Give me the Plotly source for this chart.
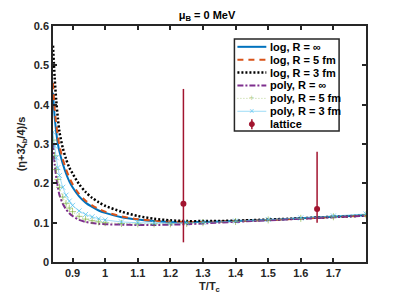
import plotly.graph_objects as go

# T/Tc grid
x_vals = [0.84, 0.845, 0.85, 0.855, 0.86, 0.87, 0.88, 0.89, 0.90, 0.92, 0.94, 0.96, 0.98, 1.00,
          1.05, 1.10, 1.15, 1.20, 1.25, 1.30, 1.40, 1.50, 1.60, 1.70, 1.80]

log_inf = [0.43, 0.37, 0.33, 0.30, 0.28, 0.25, 0.225, 0.205, 0.19, 0.167, 0.151, 0.140, 0.131, 0.125,
           0.114, 0.108, 0.104, 0.102, 0.101, 0.102, 0.104, 0.107, 0.111, 0.115, 0.119]
log_5 = [0.455, 0.39, 0.35, 0.32, 0.295, 0.262, 0.236, 0.215, 0.198, 0.173, 0.156, 0.144, 0.135, 0.128,
         0.116, 0.109, 0.105, 0.103, 0.102, 0.102, 0.104, 0.107, 0.110, 0.114, 0.118]
log_3 = [0.55, 0.47, 0.41, 0.365, 0.33, 0.29, 0.262, 0.24, 0.225, 0.198, 0.178, 0.163, 0.152, 0.143,
         0.128, 0.117, 0.110, 0.106, 0.104, 0.104, 0.105, 0.108, 0.111, 0.115, 0.118]
poly_inf = [0.30, 0.25, 0.215, 0.19, 0.17, 0.148, 0.134, 0.124, 0.117, 0.107, 0.102, 0.099, 0.097, 0.096,
            0.095, 0.094, 0.094, 0.095, 0.096, 0.098, 0.102, 0.106, 0.110, 0.114, 0.118]
poly_5 = [0.31, 0.27, 0.235, 0.21, 0.19, 0.165, 0.149, 0.137, 0.128, 0.116, 0.109, 0.105, 0.102, 0.100,
          0.098, 0.097, 0.097, 0.097, 0.098, 0.100, 0.103, 0.107, 0.111, 0.115, 0.120]
poly_3 = [0.33, 0.295, 0.265, 0.24, 0.22, 0.19, 0.17, 0.155, 0.144, 0.130, 0.121, 0.115, 0.110, 0.107,
          0.102, 0.100, 0.099, 0.099, 0.100, 0.101, 0.104, 0.108, 0.112, 0.117, 0.122]

lat_x = [1.24, 1.65]
lat_y = [0.148, 0.135]
lat_lo = [0.050, 0.100]
lat_hi = [0.440, 0.280]

x_ticks = [0.9, 1.0, 1.1, 1.2, 1.3, 1.4, 1.5, 1.6, 1.7]
x_tick_text = ["0.9", "1", "1.1", "1.2", "1.3", "1.4", "1.5", "1.6", "1.7"]
y_ticks = [0, 0.1, 0.2, 0.3, 0.4, 0.5, 0.6]
y_tick_text = ["0", "0.1", "0.2", "0.3", "0.4", "0.5", "0.6"]

legend_names = ["log, R = ∞", "log, R = 5 fm", "log, R = 3 fm",
                "poly, R = ∞", "poly, R = 5 fm", "poly, R = 3 fm", "lattice"]

FONT = "Liberation Sans, Arial, sans-serif"
C_BLUE, C_ORANGE, C_BLACK = "#0072BD", "#D95319", "#000000"
C_PURPLE, C_GREEN, C_LBLUE, C_RED = "#7E2F8E", "rgba(119,172,48,0.6)", "rgba(77,190,238,0.7)", "#A2142F"

styles = [
    dict(color=C_BLUE, width=2, dash="solid"),
    dict(color=C_ORANGE, width=2, dash="6px,5px"),
    dict(color=C_BLACK, width=2.5, dash="2px,2px"),
    dict(color=C_PURPLE, width=2, dash="6px,2px,2px,2px"),
    dict(color="rgba(119,172,48,0.5)", width=1, dash="1px,2px"),
    dict(color="rgba(77,190,238,0.55)", width=1, dash="solid"),
]

# page is offset by the 8px body margin
W, H = 395, 295
ML, MR, MT, MB = 44, 37, 16, 41
PW, PH = W - ML - MR, H - MT - MB


def px(xp):  # page x pixel -> paper
    return (xp - 8 - ML) / PW


def py(yp):  # page y pixel -> paper
    return (H - MB - (yp - 8)) / PH


fig = go.Figure()
series = [log_inf, log_5, log_3, poly_inf, poly_5, poly_3]
for i, ys in enumerate(series):
    st = styles[i]
    kw = {}
    mode = "lines"
    if i == 4:
        mode = "lines+markers"
        kw["marker"] = dict(symbol="cross-thin", size=5, line=dict(color=C_GREEN, width=1))
    if i == 5:
        mode = "lines+markers"
        kw["marker"] = dict(symbol="x-thin", size=5, line=dict(color=C_LBLUE, width=1))
    fig.add_trace(go.Scatter(x=x_vals, y=ys, mode=mode, name=legend_names[i], showlegend=False,
                             line=dict(color=st["color"], width=st["width"], dash=st["dash"],
                                       shape="spline", smoothing=0.8), **kw))

fig.add_trace(go.Scatter(x=lat_x, y=lat_y, mode="markers", name="lattice", showlegend=False,
                         marker=dict(color=C_RED, size=6, symbol="circle"),
                         error_y=dict(type="data", symmetric=False,
                                      array=[h - y for h, y in zip(lat_hi, lat_y)],
                                      arrayminus=[y - l for l, y in zip(lat_lo, lat_y)],
                                      color=C_RED, thickness=1.5, width=0)))

# manual legend (MATLAB-style compact box)
shapes = [dict(type="rect", xref="paper", yref="paper", x0=px(234), x1=px(339), y0=py(130), y1=py(37),
               fillcolor="white", line=dict(color="#262626", width=1.5), layer="above")]
annotations = []
rows = [45, 58, 71, 84, 97, 110, 123]
for i, name in enumerate(legend_names):
    yy = py(rows[i])
    if i < 6:
        st = styles[i]
        shapes.append(dict(type="line", xref="paper", yref="paper", x0=px(237), x1=px(266), y0=yy, y1=yy,
                           line=dict(color=st["color"], width=st["width"], dash=st["dash"]), layer="above"))
    if i == 4:
        annotations.append(dict(text="+", x=px(251.5), y=yy, xref="paper", yref="paper", showarrow=False,
                                xanchor="center", yanchor="middle",
                                font=dict(family=FONT, size=9, color=C_GREEN)))
    if i == 5:
        annotations.append(dict(text="×", x=px(251.5), y=yy, xref="paper", yref="paper", showarrow=False,
                                xanchor="center", yanchor="middle",
                                font=dict(family=FONT, size=9, color=C_LBLUE)))
    if i == 6:
        shapes.append(dict(type="line", xref="paper", yref="paper", x0=px(251.5), x1=px(251.5),
                           y0=py(rows[i] + 5), y1=py(rows[i] - 5),
                           line=dict(color=C_RED, width=1.5), layer="above"))
        shapes.append(dict(type="circle", xref="paper", yref="paper", x0=px(249), x1=px(254),
                           y0=py(rows[i] + 2.5), y1=py(rows[i] - 2.5),
                           fillcolor=C_RED, line=dict(color=C_RED, width=1), layer="above"))
    annotations.append(dict(text=name, x=px(268), y=yy, xref="paper", yref="paper", showarrow=False,
                            xanchor="left", yanchor="middle",
                            font=dict(family=FONT, size=11, color="#000000", weight="bold")))

axis_common = dict(showline=True, linecolor="#262626", linewidth=1.5, mirror="ticks",
                   ticks="inside", ticklen=4, tickcolor="#262626", tickwidth=1.5,
                   showgrid=False, zeroline=False,
                   tickfont=dict(family=FONT, size=11, color="#262626", weight="bold"))

fig.update_xaxes(range=[0.84, 1.8], tickvals=x_ticks, ticktext=x_tick_text,
                 title=dict(text="T/T<sub>c</sub>", standoff=4,
                            font=dict(family=FONT, size=11, color="#262626", weight="bold")),
                 **axis_common)
fig.update_yaxes(range=[0, 0.6], tickvals=y_ticks, ticktext=y_tick_text,
                 title=dict(text="(η+3ζ<sub>b</sub>/4)/s", standoff=6,
                            font=dict(family=FONT, size=11, color="#262626", weight="bold")),
                 **axis_common)

fig.update_layout(
    width=W, height=H,
    margin=dict(l=ML, r=MR, t=MT, b=MB),
    paper_bgcolor="white", plot_bgcolor="white",
    title=dict(text="μ<sub>B</sub> = 0 MeV", x=(207 - 8) / W, xanchor="center",
               y=0.99, yanchor="top", yref="container",
               font=dict(family=FONT, size=11, color="#000000", weight="bold")),
    shapes=shapes, annotations=annotations,
    showlegend=False,
)

fig.write_html("out.html")
